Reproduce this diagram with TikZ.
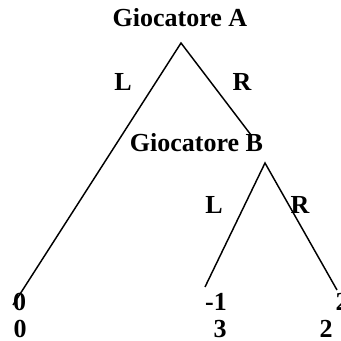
\documentclass[tikz,border=0pt]{standalone}
\usepackage{fontspec}
\setmainfont{Liberation Serif}
\usepackage{tikz}

\begin{document}
\begin{tikzpicture}[x=0.75pt, y=-0.75pt,
  every node/.style={font=\bfseries\fontsize{19.5}{22}\selectfont, inner sep=0pt, anchor=base},
  branch/.style={line width=1.1pt}]
  \useasboundingbox (0,0) rectangle (341,341);
  % decision points and ends of the branches
  \coordinate (a) at (181,43);
  \coordinate (aL) at (13,305);
  \coordinate (aR) at (251,135);
  \coordinate (b) at (265,163);
  \coordinate (bL) at (205,287);
  \coordinate (bR) at (337,290);
  \draw[branch] (aL) -- (a) -- (aR);
  \draw[branch] (bL) -- (b) -- (bR);
  % players and moves
  \node (pa) at (180,27) {Giocatore A};
  \node (aLlab) at (123,91) {L};
  \node (aRlab) at (242,91) {R};
  \node (pb) at (196.5,152) {Giocatore B};
  \node (bLlab) at (214,214) {L};
  \node (bRlab) at (300,214) {R};
  % payoffs
  \node (u1) at (19.5,310) {0};
  \node (u2) at (216,310) {-1};
  \node (u3) at (342,310) {2};
  \node (v1) at (20,337) {0};
  \node (v2) at (220,337) {3};
  \node (v3) at (326,337) {2};
\end{tikzpicture}
\end{document}
